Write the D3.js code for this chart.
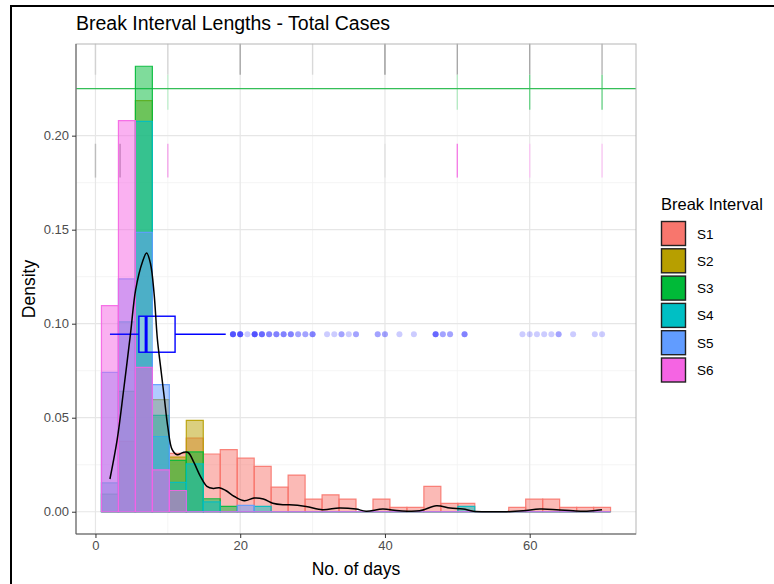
<!DOCTYPE html>
<html>
<head>
<meta charset="utf-8">
<script src="https://cdn.jsdelivr.net/npm/d3@7"></script>
<style>
  body { margin: 0; background: #fff; }
  svg { display: block; font-family: "Liberation Sans", Arial, sans-serif; }
</style>
</head>
<body>
<svg id="chart" width="774" height="584"></svg>
<script>
// ---- data ----
const seriesNames = ['S1', 'S2', 'S3', 'S4', 'S5', 'S6'];
const seriesColors = ['#F8766D', '#B79F00', '#00BA38', '#00BFC4', '#619CFF', '#F564E3'];
const dayMin = 2, dayMax = 70, binCount = 30;

// density per bin (30 bins, ggplot style bins=30)
const s1 = [0, 0.0374, 0, 0, 0.031, 0.0392, 0.0307, 0.033, 0.0285, 0.0241, 0.0131, 0.0195, 0.0067, 0.009, 0.0067,
            0, 0.0067, 0.0023, 0.0023, 0.0135, 0.0044, 0.0044, 0, 0, 0.0023, 0.0067, 0.0067, 0.0023, 0.0023, 0.0023];
const s2 = [0, 0, 0.2186, 0.0596, 0.029, 0.0486, 0, 0, 0, 0, 0, 0, 0, 0, 0,
            0, 0, 0, 0, 0, 0, 0, 0, 0, 0, 0, 0, 0, 0, 0];
const s3 = [0.0094, 0.064, 0.2369, 0.0512, 0.0273, 0.0318, 0.0069, 0.0028, 0, 0, 0, 0, 0, 0, 0,
            0, 0, 0, 0, 0, 0, 0, 0, 0, 0, 0, 0, 0, 0, 0];
const s4 = [0.0153, 0.101, 0.2076, 0.04, 0.0156, 0.0255, 0.0052, 0, 0, 0.0028, 0, 0, 0, 0, 0,
            0, 0, 0, 0, 0, 0, 0.0028, 0, 0, 0, 0, 0, 0, 0, 0];
const s5 = [0.0741, 0.1238, 0.1486, 0.0676, 0, 0, 0, 0, 0.0034, 0, 0, 0, 0, 0, 0,
            0, 0, 0, 0, 0, 0, 0, 0, 0, 0, 0, 0, 0, 0, 0];
const s6 = [0.1096, 0.208, 0.0768, 0.0223, 0.0113, 0, 0, 0, 0, 0, 0, 0, 0, 0, 0,
            0, 0, 0, 0, 0, 0, 0, 0, 0, 0, 0, 0, 0, 0, 0];
const seriesValues = [s1, s2, s3, s4, s5, s6];

// overall kernel density [day, density]
const densityCurve = [
  [2.0, 0.0174], [3.0, 0.0383], [3.9, 0.065], [4.85, 0.095], [5.55, 0.118], [6.5, 0.133], [7.07, 0.1376],
  [7.6, 0.132], [8.1, 0.116], [8.55, 0.092], [9.0, 0.077], [9.5, 0.061], [10.0, 0.045], [10.6, 0.033],
  [11.3, 0.0303], [12.1, 0.0315], [12.8, 0.0315], [13.6, 0.0262], [14.5, 0.0188], [15.4, 0.0135],
  [16.3, 0.0124], [17.1, 0.0128], [18.0, 0.0113], [19.2, 0.0081], [20.6, 0.0058], [21.9, 0.0073],
  [23.2, 0.0068], [24.5, 0.0045], [25.9, 0.0037], [26.8, 0.0037], [29.1, 0.0028], [31.4, 0.0011],
  [33.7, 0.002], [36.0, 0.0014], [37.4, 0.0003], [39.7, 0.0014], [42.0, 0.0005], [44.8, 0.0005],
  [47.1, 0.0032], [49.0, 0.002], [50.8, 0.0014], [52.2, 0.0003], [54.5, 0], [56.8, 0], [59.1, 0.0005],
  [61.4, 0.0014], [63.7, 0.0011], [66.0, 0.0005], [67.9, 0.0003], [70.0, 0.0011]
];

// boxplot of all days: whisker low, q1, median, q3, whisker high, drawn at density level boxLevel
const boxValues = [2, 6, 7, 11, 18];
const boxLevel = 0.0944;
// outliers [day, number of overlapping points]
const outliers = [
  [19, 5], [20, 5], [21, 1], [22, 5], [23, 4], [24, 3], [25, 3], [26, 3], [27, 3], [28, 2], [29, 2], [30, 3],
  [32, 1], [33, 1], [34, 2], [35, 1], [36, 2], [39, 2], [40, 2], [42, 1], [44, 1], [47, 4], [48, 2], [49, 2],
  [51, 3], [59, 1], [60, 1], [61, 1], [62, 1], [63, 1], [64, 2], [66, 1], [69, 1], [70, 1]
];

// marks along the top of the panel: [day, colour], in three bands
const topBandA = [[0, '#d2d2d2'], [10, '#d6d6d6'], [20, '#a8a8a8'], [30, '#d9d9d9'], [40, '#9c9c9c'],
                  [50, '#a8a8a8'], [60, '#a8a8a8'], [70, '#b5b5b5']];
const topBandB = [[10, '#c2efcf'], [50, '#b6eac4'], [60, '#6ed38b'], [70, '#6ed38b']];
const topBandC = [[0, '#bdbdbd'], [3.4, '#9a9a9a'], [10, '#f3a6ea'], [40, '#e3e3e3'], [50, '#f57fe6'],
                  [60, '#f9c8f3'], [70, '#f9c8f3']];
const bandLimits = [[0.2489, 0.2324], [0.2324, 0.2138], [0.1957, 0.1777]];
const greenLineLevel = 0.225;

const xTicks = [0, 20, 40, 60], xMinor = [10, 30, 50, 70];
const yTicks = [0, 0.05, 0.10, 0.15, 0.20], yMinor = [0.025, 0.075, 0.125, 0.175, 0.225];

// ---- layout ----
const P = { left: 76, right: 636, top: 44, bottom: 534 };
const binWidth = (dayMax - dayMin) / (binCount - 1);
const binStart = dayMin - binWidth / 2;
const binEnd = binStart + binCount * binWidth;
const xPad = 0.05 * (binEnd - binStart);
const yMax = d3.max(seriesValues.flat());

const x = d3.scaleLinear().domain([binStart - xPad, binEnd + xPad]).range([P.left, P.right]);
const y = d3.scaleLinear().domain([-0.05 * yMax, 1.05 * yMax]).range([P.bottom, P.top]);

const svg = d3.select('#chart');
svg.append('rect').attr('width', 774).attr('height', 584).attr('fill', '#fff');
svg.append('rect').attr('x', 11).attr('y', 6).attr('width', 800).attr('height', 620)
  .attr('fill', 'none').attr('stroke', '#000').attr('stroke-width', 2);

const panel = svg.append('g').attr('class', 'panel');

// grid
const grid = panel.append('g').attr('class', 'grid');
yMinor.forEach(v => grid.append('line').attr('x1', P.left).attr('x2', P.right)
  .attr('y1', y(v)).attr('y2', y(v)).attr('stroke', '#f2f2f2').attr('stroke-width', 0.8));
xMinor.forEach(v => grid.append('line').attr('y1', P.top).attr('y2', P.bottom)
  .attr('x1', x(v)).attr('x2', x(v)).attr('stroke', '#f2f2f2').attr('stroke-width', 0.8));
yTicks.forEach(v => grid.append('line').attr('x1', P.left).attr('x2', P.right)
  .attr('y1', y(v)).attr('y2', y(v)).attr('stroke', '#e6e6e6').attr('stroke-width', 1.2));
xTicks.forEach(v => grid.append('line').attr('y1', P.top).attr('y2', P.bottom)
  .attr('x1', x(v)).attr('x2', x(v)).attr('stroke', '#e6e6e6').attr('stroke-width', 1.2));

// top bands and the green line
const bands = panel.append('g').attr('class', 'top-bands');
[topBandA, topBandB, topBandC].forEach((band, i) => {
  bands.selectAll(null).data(band).enter().append('line')
    .attr('x1', d => x(d[0])).attr('x2', d => x(d[0]))
    .attr('y1', y(bandLimits[i][0])).attr('y2', y(bandLimits[i][1]))
    .attr('stroke', d => d[1]).attr('stroke-width', 1.4);
});
bands.append('line').attr('x1', P.left).attr('x2', P.right)
  .attr('y1', y(greenLineLevel)).attr('y2', y(greenLineLevel))
  .attr('stroke', '#35bf58').attr('stroke-width', 1.3);

// histograms, drawn S1 first so S6 ends on top
const bars = panel.append('g').attr('class', 'bars');
seriesValues.forEach((vals, si) => {
  bars.append('g').selectAll('path').data(vals).enter().append('path')
    .attr('d', (v, i) => {
      const x0 = x(binStart + i * binWidth), x1 = x(binStart + (i + 1) * binWidth);
      return `M${x0},${y(0)}V${y(v)}H${x1}V${y(0)}Z`;
    })
    .attr('fill', seriesColors[si]).attr('fill-opacity', 0.5)
    .attr('stroke', seriesColors[si]).attr('stroke-opacity', 0.9).attr('stroke-width', 1.2);
});

// boxplot
const box = panel.append('g').attr('class', 'box');
const by = y(boxLevel), bh = 18;
box.append('line').attr('x1', x(boxValues[0])).attr('x2', x(boxValues[1]))
  .attr('y1', by).attr('y2', by).attr('stroke', '#0000ff').attr('stroke-width', 1.4);
box.append('line').attr('x1', x(boxValues[3])).attr('x2', x(boxValues[4]))
  .attr('y1', by).attr('y2', by).attr('stroke', '#0000ff').attr('stroke-width', 1.4);
box.append('rect').attr('x', x(boxValues[1])).attr('y', by - bh)
  .attr('width', x(boxValues[3]) - x(boxValues[1])).attr('height', 2 * bh)
  .attr('fill', '#fff').attr('fill-opacity', 0.35).attr('stroke', '#0000ff').attr('stroke-width', 1.4);
box.append('line').attr('x1', x(boxValues[2])).attr('x2', x(boxValues[2]))
  .attr('y1', by - bh).attr('y2', by + bh).attr('stroke', '#0000ff').attr('stroke-width', 3);

const pts = outliers.flatMap(d => d3.range(d[1]).map(() => d[0]));
box.selectAll('circle').data(pts).enter().append('circle')
  .attr('cx', d => x(d)).attr('cy', by).attr('r', 3)
  .attr('fill', '#0000ff').attr('fill-opacity', 0.2);

// density line
panel.append('path').datum(densityCurve)
  .attr('d', d3.line().x(d => x(d[0])).y(d => y(d[1])).curve(d3.curveCatmullRom.alpha(0.5)))
  .attr('fill', 'none').attr('stroke', '#000').attr('stroke-width', 1.5);

// panel border
panel.append('rect').attr('x', P.left).attr('y', P.top)
  .attr('width', P.right - P.left).attr('height', P.bottom - P.top)
  .attr('fill', 'none').attr('stroke', '#b5b5b5').attr('stroke-width', 1);
panel.append('path').attr('d', `M${P.left},${P.top}V${P.bottom}H${P.right}`)
  .attr('fill', 'none').attr('stroke', '#5a5a5a').attr('stroke-width', 1);

// axes
const yAxis = svg.append('g').attr('transform', `translate(${P.left},0)`)
  .call(d3.axisLeft(y).tickValues(yTicks).tickFormat(d3.format('.2f')).tickSize(4).tickPadding(3));
const xAxis = svg.append('g').attr('transform', `translate(0,${P.bottom})`)
  .call(d3.axisBottom(x).tickValues(xTicks).tickSize(4).tickPadding(3));
[yAxis, xAxis].forEach(a => {
  a.select('.domain').remove();
  a.selectAll('line').attr('stroke', '#333');
  a.selectAll('text').attr('fill', '#4d4d4d').attr('font-size', 13)
    .attr('font-family', '"Liberation Sans", Arial, sans-serif');
});

// titles
svg.append('text').attr('x', P.left).attr('y', 30).attr('font-size', 19.5).attr('fill', '#000')
  .text('Break Interval Lengths - Total Cases');
svg.append('text').attr('x', (P.left + P.right) / 2).attr('y', 575).attr('text-anchor', 'middle')
  .attr('font-size', 17.5).attr('fill', '#000').text('No. of days');
svg.append('text').attr('transform', `translate(35,${(P.top + P.bottom) / 2}) rotate(-90)`)
  .attr('text-anchor', 'middle').attr('font-size', 17.5).attr('fill', '#000').text('Density');

// legend
const legend = svg.append('g').attr('transform', 'translate(661,0)');
legend.append('text').attr('x', 0).attr('y', 210).attr('font-size', 16.5).attr('fill', '#000')
  .text('Break Interval');
const item = legend.selectAll('g.item').data(seriesNames).enter().append('g').attr('class', 'item')
  .attr('transform', (d, i) => `translate(0,${221 + i * 27.3})`);
item.append('rect').attr('x', 0.5).attr('y', 0.5).attr('width', 24).attr('height', 24)
  .attr('fill', (d, i) => seriesColors[i]).attr('stroke', '#222').attr('stroke-width', 1.4);
item.append('text').attr('x', 36).attr('y', 17.5).attr('font-size', 13.5).attr('fill', '#000').text(d => d);
</script>
</body>
</html>
